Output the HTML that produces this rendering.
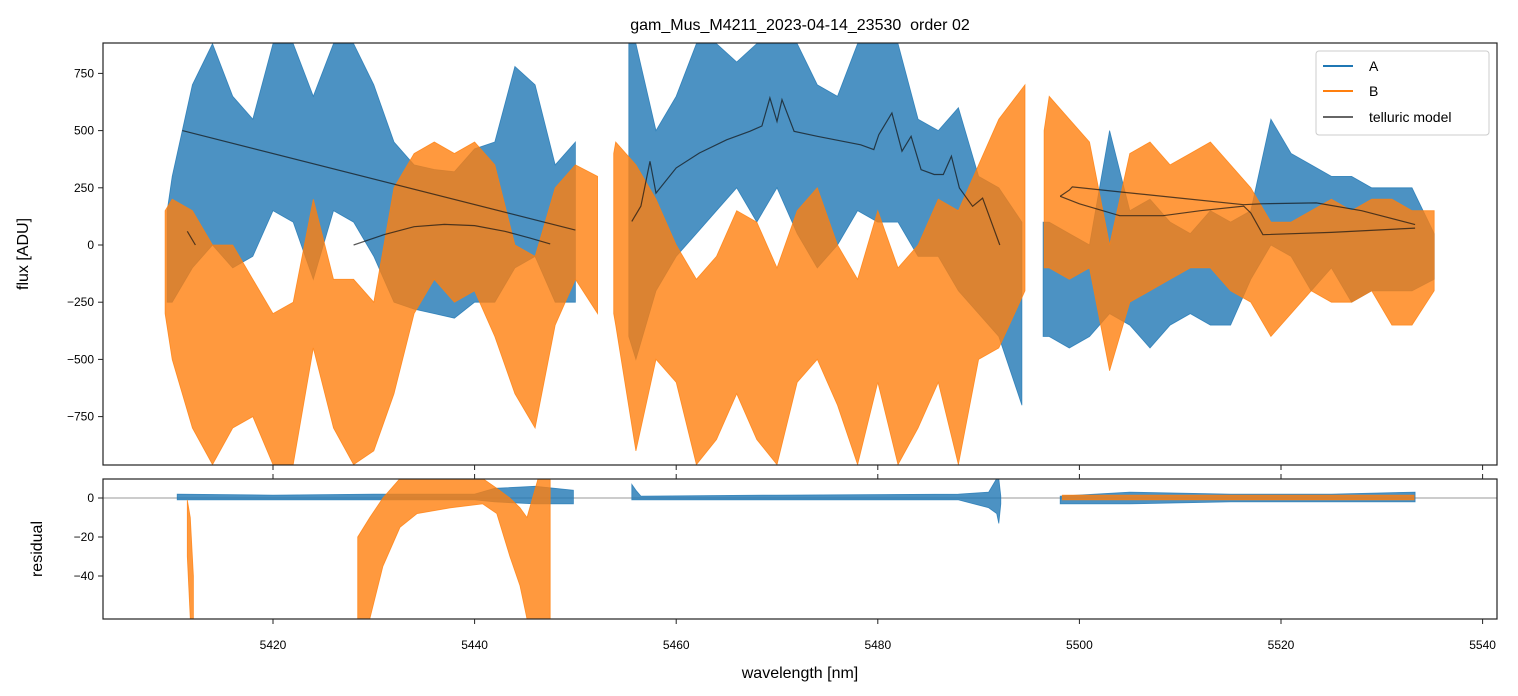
<!DOCTYPE html>
<html><head><meta charset="utf-8"><style>
html,body{margin:0;padding:0;background:#fff;}
svg{display:block;font-family:"Liberation Sans","DejaVu Sans",sans-serif;}
</style></head><body>
<svg id="chart" width="1518" height="696" viewBox="0 0 1518 696">
<rect x="0" y="0" width="1518" height="696" fill="#fff"/>
<text x="800" y="30" text-anchor="middle" font-size="16">gam_Mus_M4211_2023-04-14_23530&#160; order 02</text>
<defs>
<clipPath id="cMain"><rect x="103" y="43" width="1394" height="422"/></clipPath>
<clipPath id="cRes"><rect x="103" y="479" width="1394" height="140"/></clipPath>
</defs>
<g id="main" clip-path="url(#cMain)"></g>
<g id="res" clip-path="url(#cRes)"></g>
<g id="axes"></g>
<text transform="translate(28,254) rotate(-90)" text-anchor="middle" font-size="16">flux [ADU]</text>
<text transform="translate(42,549) rotate(-90)" text-anchor="middle" font-size="16">residual</text>
<text x="800" y="678" text-anchor="middle" font-size="16">wavelength [nm]</text>
<g>
<rect x="1316" y="51" width="173" height="84" rx="3" fill="#fff" fill-opacity="0.85" stroke="#ccc"/>
<line x1="1323" y1="66" x2="1353" y2="66" stroke="#1f77b4" stroke-width="2"/>
<text x="1369" y="71" font-size="14">A</text>
<line x1="1323" y1="91" x2="1353" y2="91" stroke="#ff7f0e" stroke-width="2"/>
<text x="1369" y="96" font-size="14">B</text>
<line x1="1323" y1="117" x2="1353" y2="117" stroke="#666" stroke-width="2"/>
<text x="1369" y="122" font-size="14">telluric model</text>
</g>
</svg>
<script>
// ---- data (wavelength nm, flux ADU) ----
const aW1=[5409.5,5410,5412,5414,5416,5418,5420,5422,5424,5426,5428,5430,5432,5434,5436,5438,5440,5442,5444,5446,5448,5450];
const aHi1=[150,300,700,880,650,550,880,880,650,880,880,700,450,350,330,320,420,450,780,700,350,450];
const aLo1=[-250,-250,-100,0,-100,-50,150,100,-150,150,100,-50,-250,-280,-300,-320,-250,-250,-100,-50,-250,-250];
const aW2=[5455.3,5456,5458,5460,5462,5464,5466,5468,5470,5472,5474,5476,5478,5480,5482,5484,5486,5488,5490,5492,5494.3];
const aHi2=[880,880,500,650,880,880,800,880,880,880,700,650,880,880,880,550,500,600,300,250,100];
const aLo2=[-400,-500,-200,-50,50,150,250,100,250,50,-100,0,150,100,100,-50,-50,-200,-300,-400,-700];
const aW3=[5496.4,5497,5499,5501,5503,5505,5507,5509,5511,5513,5515,5517,5519,5521,5523,5525,5527,5529,5531,5533,5535.2];
const aHi3=[100,100,50,0,500,150,200,100,50,150,100,150,550,400,350,300,300,250,250,250,50];
const aLo3=[-400,-400,-450,-400,-300,-350,-450,-350,-300,-350,-350,-150,0,-50,-200,-100,-250,-200,-200,-200,-150];
const bW1=[5409.3,5410,5412,5414,5416,5418,5420,5422,5424,5426,5428,5430,5432,5434,5436,5438,5440,5442,5444,5446,5448,5450,5452.2];
const bHi1=[150,200,150,0,0,-150,-300,-250,200,-150,-150,-250,250,400,450,400,450,350,0,-50,250,350,300];
const bLo1=[-300,-500,-800,-960,-800,-750,-960,-960,-450,-800,-960,-900,-650,-300,-150,-250,-200,-400,-650,-800,-350,-150,-300];
const bW2=[5453.8,5454,5456,5458,5460,5462,5464,5466,5468,5470,5472,5474,5476,5478,5480,5482,5484,5486,5488,5490,5492,5494.6];
const bHi2=[400,450,350,200,0,-150,-50,150,100,-100,150,250,0,-150,150,-100,0,200,150,350,550,700];
const bLo2=[-300,-350,-900,-500,-600,-960,-850,-650,-850,-960,-600,-500,-700,-960,-600,-960,-800,-600,-960,-500,-450,-200];
const bW3=[5496.5,5497,5499,5501,5503,5505,5507,5509,5511,5513,5515,5517,5519,5521,5523,5525,5527,5529,5531,5533,5535.2];
const bHi3=[500,650,550,450,0,400,450,350,400,450,350,250,100,100,150,200,150,200,200,150,150];
const bLo3=[-100,-100,-150,-100,-550,-250,-200,-150,-100,-100,-200,-250,-400,-300,-200,-250,-250,-200,-350,-350,-200];
// telluric model polylines
const t1W=[5411,5450];const t1V=[500,65];
const t2W=[5411.5,5412.3];const t2V=[60,0];
const t3W=[5428,5431,5434,5437,5440,5443,5445.5,5447.5];const t3V=[0,45,80,90,85,60,30,5];
const t4W=[5455.6,5456.5,5457.4,5458,5460,5462.3,5465,5467.3,5468.5,5469.3,5470,5470.5,5471.7,5474,5478.3,5479.6,5480.1,5481.4,5482.4,5483.3,5484.3,5485.6,5486.5,5487.3,5488.1,5489.4,5490.4,5492.1];
const t4V=[103,170,366,227,337,402,460,497,520,643,540,635,497,475,438,417,482,577,410,475,329,308,308,388,249,169,205,0];
const t5W=[5498.1,5499,5499.3,5504,5510,5516.3,5518,5523.5,5528,5533.3];
const t5V=[213,240,254,232,205,176,180,184,150,89];
const t6W=[5498.1,5500,5504,5508.3,5512,5516.3,5517,5518.2,5525,5533.3];
const t6V=[213,180,128,128,150,170,140,45,55,74];
// residuals
const rAW1=[5410.5,5420,5430,5440,5442,5446,5449.8];const rAHi1=[2,1.5,2,2,5,6,4];const rALo1=[-1,-1,-1,-1,-2,-3,-3];
const rAW2=[5455.6,5456,5456.5,5470,5488,5491,5491.8,5492,5492.2];const rAHi2=[7,4,1,1.5,2,3,10,10,1];const rALo2=[-1,-1,-1,-1,-1,-5,-8,-13,-3];
const rAW3=[5498.1,5505,5515,5525,5533.3];const rAHi3=[1,3,2,2,3];const rALo3=[-3,-3,-2,-2,-2];
const rBW1=[5411.5,5411.8,5412.1];const rBHi1=[-1,-10,-40];const rBLo1=[-30,-62,-62];
const rBW2=[5428.4,5429.6,5430.9,5432.6,5434.3,5437.6,5440.8,5442.2,5443.5,5444.5,5445.2,5446.3,5447.5];
const rBHi2=[-20,-10,0,10,10,10,10,5,0,-5,-10,10,10];
const rBLo2=[-62,-62,-35,-15,-8,-5,-3,-8,-30,-45,-62,-62,-62];
const rBW3=[5498.3,5505,5515,5525,5533.2];const rBHi3=[1.5,1.5,1.5,1.5,1.5];const rBLo3=[-1,-1,-1,-1,-1];
const xTicks=[5420,5440,5460,5480,5500,5520,5540];
const yTicks=[750,500,250,0,-250,-500,-750];
const rTicks=[0,-20,-40];

const NS="http://www.w3.org/2000/svg";
const X=w=>273+(w-5420)*10.08;
const Y=v=>245-v*0.2288;
const R=r=>498-r*1.95;
function mk(tag,attrs,parent){const e=document.createElementNS(NS,tag);for(const k in attrs)e.setAttribute(k,attrs[k]);parent.appendChild(e);return e;}
const main=document.getElementById('main'),res=document.getElementById('res'),axes=document.getElementById('axes');
function band(W,H,L,fy,color,parent,name){
  let p=W.map((w,i)=>X(w).toFixed(1)+','+fy(H[i]).toFixed(1));
  for(let i=W.length-1;i>=0;i--)p.push(X(W[i]).toFixed(1)+','+fy(L[i]).toFixed(1));
  const e=mk('polygon',{points:p.join(' '),fill:color,'fill-opacity':0.8,stroke:color,'stroke-opacity':0.8,'stroke-width':0.8},parent);
  
  
}
function line(W,V,fy,color,sw,op,parent,name){
  const e=mk('polyline',{points:W.map((w,i)=>X(w).toFixed(1)+','+fy(V[i]).toFixed(1)).join(' '),fill:'none',stroke:color,'stroke-width':sw,'stroke-opacity':op},parent);
  
  
}
const BL='#1f77b4',OR='#ff7f0e';
band(aW1,aHi1,aLo1,Y,BL,main,'series-a-segment-1');
band(aW2,aHi2,aLo2,Y,BL,main,'series-a-segment-2');
band(aW3,aHi3,aLo3,Y,BL,main,'series-a-segment-3');
band(bW1,bHi1,bLo1,Y,OR,main,'series-b-segment-1');
band(bW2,bHi2,bLo2,Y,OR,main,'series-b-segment-2');
band(bW3,bHi3,bLo3,Y,OR,main,'series-b-segment-3');
[[t1W,t1V],[t2W,t2V],[t3W,t3V],[t4W,t4V],[t5W,t5V],[t6W,t6V]].forEach((t,i)=>line(t[0],t[1],Y,'#111',1.2,0.7,main,'telluric-model-'+(i+1)));
mk('line',{x1:103,y1:R(0),x2:1497,y2:R(0),stroke:'#777','stroke-width':0.8},res);
band(rAW1,rAHi1,rALo1,R,BL,res,'residual-a-segment-1');
band(rAW2,rAHi2,rALo2,R,BL,res,'residual-a-segment-2');
band(rAW3,rAHi3,rALo3,R,BL,res,'residual-a-segment-3');
band(rBW1,rBHi1,rBLo1,R,OR,res,'residual-b-segment-1');
band(rBW2,rBHi2,rBLo2,R,OR,res,'residual-b-segment-2');
band(rBW3,rBHi3,rBLo3,R,OR,res,'residual-b-segment-3');
// frames
let f1=mk('rect',{x:103,y:43,width:1394,height:422,fill:'none',stroke:'#222','stroke-width':1.2},axes);


let f2=mk('rect',{x:103,y:479,width:1394,height:140,fill:'none',stroke:'#222','stroke-width':1.2},axes);


xTicks.forEach(t=>{
  const x=X(t);
  mk('line',{x1:x,y1:465,x2:x,y2:470,stroke:'#222'},axes);
  mk('line',{x1:x,y1:479,x2:x,y2:474,stroke:'#222'},axes);
  mk('line',{x1:x,y1:619,x2:x,y2:624,stroke:'#222'},axes);
  const tx=mk('text',{x:x,y:649,'text-anchor':'middle','font-size':12},axes);
  tx.textContent=t;
  
  
});
yTicks.forEach(t=>{
  const y=Y(t);
  mk('line',{x1:98,y1:y,x2:103,y2:y,stroke:'#222'},axes);
  const tx=mk('text',{x:94,y:y+4,'text-anchor':'end','font-size':12},axes);
  tx.textContent=t<0?'\u2212'+(-t):t;
  
  
});
rTicks.forEach(t=>{
  const y=R(t);
  mk('line',{x1:98,y1:y,x2:103,y2:y,stroke:'#222'},axes);
  const tx=mk('text',{x:94,y:y+4,'text-anchor':'end','font-size':12},axes);
  tx.textContent=t<0?'\u2212'+(-t):t;
  
  
});
</script>
</body></html>
